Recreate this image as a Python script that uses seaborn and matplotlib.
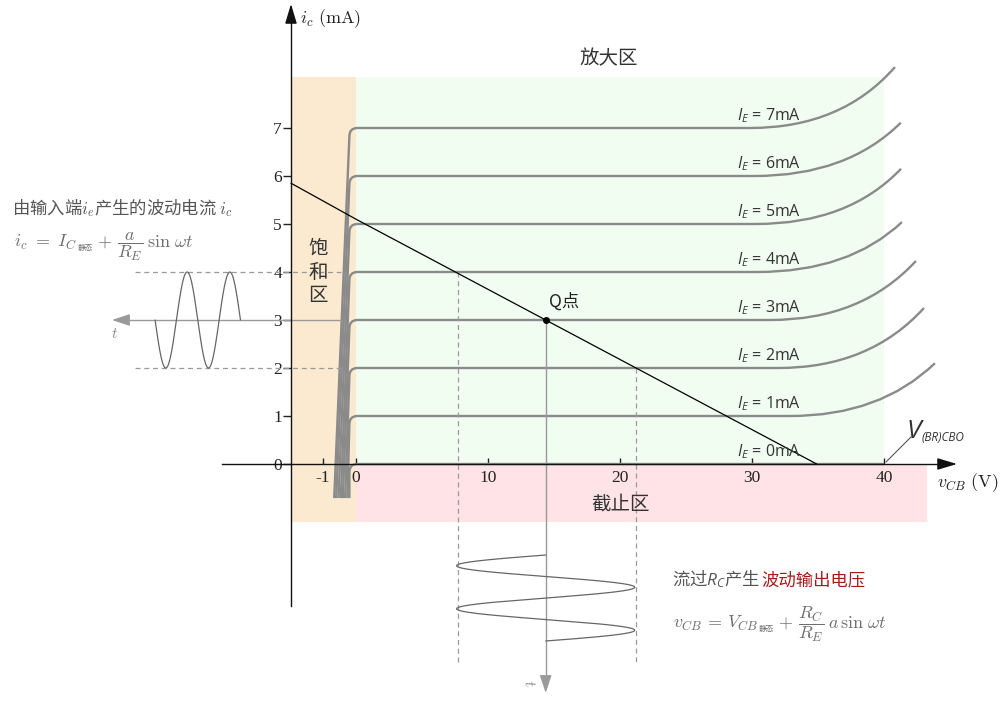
import numpy as np
import matplotlib
matplotlib.use("Agg")
import matplotlib.pyplot as plt
import seaborn as sns
from matplotlib.path import Path
from matplotlib.patches import PathPatch

# ---------------- data ----------------
ie_levels = [0, 1, 2, 3, 4, 5, 6, 7]                       # I_E (mA)
ie_labels = ["0mA", "1mA", "2mA", "3mA", "4mA", "5mA", "6mA", "7mA"]
sat_bottom_v = [-0.20, -0.26, -0.33, -0.40, -0.46, -0.53, -0.60, -0.66]
sat_bottom_i = -0.71
knee_v = -0.20
flat_start_v = 0.11
bd_start_v = [40.0, 32.9, 32.0, 31.4, 30.4, 30.3, 30.2, 29.85]
bd_ctrl_v = [40.0, 39.7, 38.9, 38.3, 37.35, 37.3, 37.2, 36.8]
bd_end_v = [40.0, 43.86, 43.03, 42.42, 41.36, 41.29, 41.27, 40.83]
bd_end_i = [0.0, 2.10, 3.25, 4.23, 5.04, 6.15, 7.11, 8.27]

load_v = [-1.97, 0.0, 34.9]
load_i = [5.85, 5.1, 0.0]
q_v, q_i = 14.37, 3.0
swing_v = [7.7, 21.2]          # v_CB where load line meets i_C = 4 and 2 mA
swing_i = [4.0, 2.0]

ic_ticks = [0, 1, 2, 3, 4, 5, 6, 7]
ic_ticklabels = ["0", "1", "2", "3", "4", "5", "6", "7"]
vcb_ticks = [-1, 0, 10, 20, 30, 40]
vcb_ticklabels = ["-1", "0", "10", "20", "30", "40"]

sat_region = (-1.97, 0.0, -1.21, 8.06)     # v0, v1, i0, i1
act_region = (0.0, 40.0, 0.0, 8.06)
cut_region = (0.0, 43.26, -1.21, 0.0)

# ---------------- style ----------------
sns.set_theme(style="white")
CJK = ["Noto Sans CJK SC", "DejaVu Sans"]
plt.rcParams["font.family"] = CJK
plt.rcParams["mathtext.it"] = "Open Sans:italic"
plt.rcParams["mathtext.rm"] = "Open Sans"
plt.rcParams["mathtext.bf"] = "Open Sans:bold"

W, H = 1004, 708
fig = plt.figure(figsize=(W / 100, H / 100), dpi=100, facecolor="white")
ax = fig.add_axes([0, 0, 1, 1])
ax.patch.set_alpha(0)


def fwd(v):
    v = np.asarray(v, float)
    return np.where(v < 0, v * 2.5, v)


def inv(u):
    u = np.asarray(u, float)
    return np.where(u < 0, u / 2.5, u)


ax.set_xscale("function", functions=(fwd, inv))
ax.set_xlim(float(inv(-356 / 13.2)), 648 / 13.2)
ax.set_ylim((464 - 708) / 48, 464 / 48)


def px2v(x):
    u = (x - 356) / 13.2
    return u / 2.5 if u < 0 else u


def py2i(y):
    return (464 - y) / 48


def P(x, y):
    return (x / W, 1 - y / H)


FT = fig.transFigure

# ---------------- regions ----------------
for (v0, v1, i0, i1), col in [(sat_region, "#FCEAD0"), (act_region, "#F1FDF1"),
                              (cut_region, "#FFE3E6")]:
    ax.fill_between([v0, v1], [i0, i0], [i1, i1], color=col, lw=0, zorder=0)

# ---------------- characteristic curves ----------------
curve_col = "#8A8A8A"
for k, lvl in enumerate(ie_levels):
    verts = [(sat_bottom_v[k], sat_bottom_i), (knee_v, lvl - 0.17), (knee_v, lvl),
             (flat_start_v, lvl), (bd_start_v[k], lvl)]
    codes = [Path.MOVETO, Path.LINETO, Path.CURVE3, Path.CURVE3, Path.LINETO]
    if bd_end_v[k] > bd_start_v[k]:
        verts += [(bd_ctrl_v[k], lvl), (bd_end_v[k], bd_end_i[k])]
        codes += [Path.CURVE3, Path.CURVE3]
    ax.add_patch(PathPatch(Path(verts, codes), fill=False, edgecolor=curve_col,
                           lw=1.7, capstyle="butt", joinstyle="round", zorder=2))
    ax.text(28.9, lvl + 0.16, r"$I_E$" + " = " + ie_labels[k], math_fontfamily="custom",
            family="Open Sans", fontsize=11.5, color="#333333", va="baseline", ha="left",
            zorder=5)

# ---------------- load line & Q ----------------
sns.lineplot(x=load_v, y=load_i, ax=ax, color="black", lw=0.9, sort=False,
             estimator=None, zorder=4)
ax.plot([q_v], [q_i], "o", color="black", ms=4, zorder=6)

# ---------------- guide lines ----------------
guide = "#9A9A9A"
ax.plot([q_v, q_v], [q_i, py2i(680)], color=guide, lw=1, zorder=3)
ax.annotate("", xy=(q_v, py2i(693)), xytext=(q_v, py2i(679)),
            arrowprops=dict(arrowstyle="-|>,head_length=0.9,head_width=0.3",
                            color=guide, lw=1, shrinkA=0, shrinkB=0))
for sv, si in zip(swing_v, swing_i):
    ax.plot([sv, sv], [si, py2i(665)], color=guide, lw=0.9, ls=(0, (4, 3)), zorder=3)
    ax.plot([px2v(135), -0.45], [si, si], color=guide, lw=0.9, ls=(0, (4, 3)), zorder=3)
ax.plot([px2v(126), -0.45], [q_i, q_i], color=guide, lw=1, zorder=3)
ax.annotate("", xy=(px2v(112), q_i), xytext=(px2v(127), q_i),
            arrowprops=dict(arrowstyle="-|>,head_length=0.9,head_width=0.3",
                            color=guide, lw=1, shrinkA=0, shrinkB=0))

# ---------------- sine waves ----------------
t = np.linspace(0, 2, 400)
in_v0, in_period = px2v(240.5), 42.7 / 33.0
in_amp = (swing_i[0] - swing_i[1]) / 2
sns.lineplot(x=in_v0 - t * in_period, y=q_i + in_amp * np.sin(2 * np.pi * t), ax=ax,
             color="#666666", lw=0.9, sort=False, estimator=None, zorder=3)
out_i0, out_period = py2i(555), 43 / 48
out_amp = (swing_v[1] - swing_v[0]) / 2
sns.lineplot(x=q_v - out_amp * np.sin(2 * np.pi * t), y=out_i0 - t * out_period, ax=ax,
             color="#666666", lw=0.9, sort=False, estimator=None, zorder=3)

# ---------------- axes ----------------
for s in ["top", "right"]:
    ax.spines[s].set_visible(False)
ax.spines["left"].set_position(("data", -1.97))
ax.spines["left"].set_bounds(py2i(606), py2i(14))
ax.spines["bottom"].set_position(("data", 0))
ax.spines["bottom"].set_bounds(px2v(222), px2v(945))
for s in ["left", "bottom"]:
    ax.spines[s].set_color("#111111")
    ax.spines[s].set_linewidth(1)
    ax.spines[s].set_zorder(4)
ax.annotate("", xy=(-1.97, py2i(4)), xytext=(-1.97, py2i(17)),
            arrowprops=dict(arrowstyle="-|>,head_length=1.0,head_width=0.3",
                            color="#111111", lw=1, shrinkA=0, shrinkB=0))
ax.annotate("", xy=(px2v(957), 0), xytext=(px2v(942), 0),
            arrowprops=dict(arrowstyle="-|>,head_length=1.0,head_width=0.3",
                            color="#111111", lw=1, shrinkA=0, shrinkB=0))

ax.set_yticks(ic_ticks, labels=ic_ticklabels)
ax.set_xticks(vcb_ticks, labels=vcb_ticklabels)
ax.tick_params(axis="y", direction="out", length=6, width=1, pad=0.5, labelsize=12.5,
               colors="#222222", labelfontfamily="Liberation Serif", left=True)
ax.tick_params(axis="x", direction="in", length=4, width=1, pad=4, labelsize=12.5,
               colors="#222222", labelfontfamily="Liberation Serif", bottom=True)
ax.grid(False)

# axis labels
ax.text(*P(300, 23), r"$i_c\ (\mathrm{mA})$", transform=FT, math_fontfamily="cm",
        fontsize=13, color="#222222", va="baseline", ha="left")
ax.text(*P(937, 487), r"$v_{CB}\ (\mathrm{V})$", transform=FT, math_fontfamily="cm",
        fontsize=13, color="#222222", va="baseline", ha="left")

# ---------------- region labels ----------------
ax.text(*P(609, 59), "放大区", transform=FT, fontsize=14, color="#333333",
        ha="center", va="center")
ax.text(*P(621, 504), "截止区", transform=FT, fontsize=14, color="#333333",
        ha="center", va="center")
ax.text(*P(318, 272), "饱\n和\n区", transform=FT, fontsize=14, color="#333333",
        ha="center", va="center", linespacing=1.15)
ax.text(*P(564, 302), "Q点", transform=FT, fontsize=12.5, color="#222222",
        ha="center", va="center")

# V(BR)CBO
ax.plot([px2v(886), px2v(911)], [py2i(462), py2i(437)], color="#555555", lw=0.8)
ax.text(*P(907, 438), "V", transform=FT, family="Open Sans", style="italic",
        fontsize=19, color="#333333", ha="left", va="baseline")
ax.text(*P(922, 441), "(BR)CBO", transform=FT, family="Open Sans", style="italic",
        fontsize=8.5, color="#333333", ha="left", va="baseline")

# ---------------- annotations ----------------
txt_col = "#555555"
form_col = "#6E6E6E"
ax.text(*P(12, 214), r"由输入端$i_e$产生的波动电流 $i_c$", transform=FT,
        math_fontfamily="cm", fontsize=12.5, color=txt_col, ha="left", va="baseline")


def formula(x, y, main, sub, plus, frac, tail):
    yb = P(x, y)[1]
    t1 = ax.text(*P(x, y), main, transform=FT, math_fontfamily="cm", fontsize=13,
                 color=form_col, ha="left", va="baseline")
    t2 = ax.annotate(sub, xy=(1, 0), xycoords=t1, xytext=(0.5, 0),
                     textcoords="offset points", fontsize=5.5, color=form_col,
                     ha="left", va="bottom")
    prev = t2
    for part, size, gap in [(plus, 13, 3.0), (frac, 13, 3.0), (tail, 13, 3.0)]:
        prev = ax.annotate(part, xy=(1, yb), xycoords=(prev, FT), xytext=(gap, 0),
                           textcoords="offset points", math_fontfamily="cm",
                           fontsize=size, color=form_col, ha="left", va="baseline")


formula(14, 247, r"$i_c\ =\ I_C$", "静态", r"$+$", r"$\dfrac{a}{R_E}$",
        r"$\sin\,\omega t$")
formula(673, 628, r"$v_{CB}\,=\,V_{CB}$", "静态", r"$+$", r"$\dfrac{R_C}{R_E}$",
        r"$a\,\sin\,\omega t$")

ta = ax.text(*P(672, 585), r"流过$R_C$产生 ", transform=FT, math_fontfamily="custom",
             fontsize=12.5, color=txt_col, ha="left", va="baseline")
ax.annotate("波动输出电压", xy=(1, P(672, 585)[1]), xycoords=(ta, FT),
            fontsize=12.5, color="#A81A1A", ha="left", va="baseline")

ax.text(*P(115, 333), r"$t$", transform=FT, math_fontfamily="cm", fontsize=11,
        color="#888888", ha="center", va="center")
ax.text(*P(529, 683), r"$t$", transform=FT, math_fontfamily="cm", fontsize=11,
        color="#888888", ha="center", va="center", rotation=-80)

fig.savefig("out.png", dpi=100, facecolor="white")
